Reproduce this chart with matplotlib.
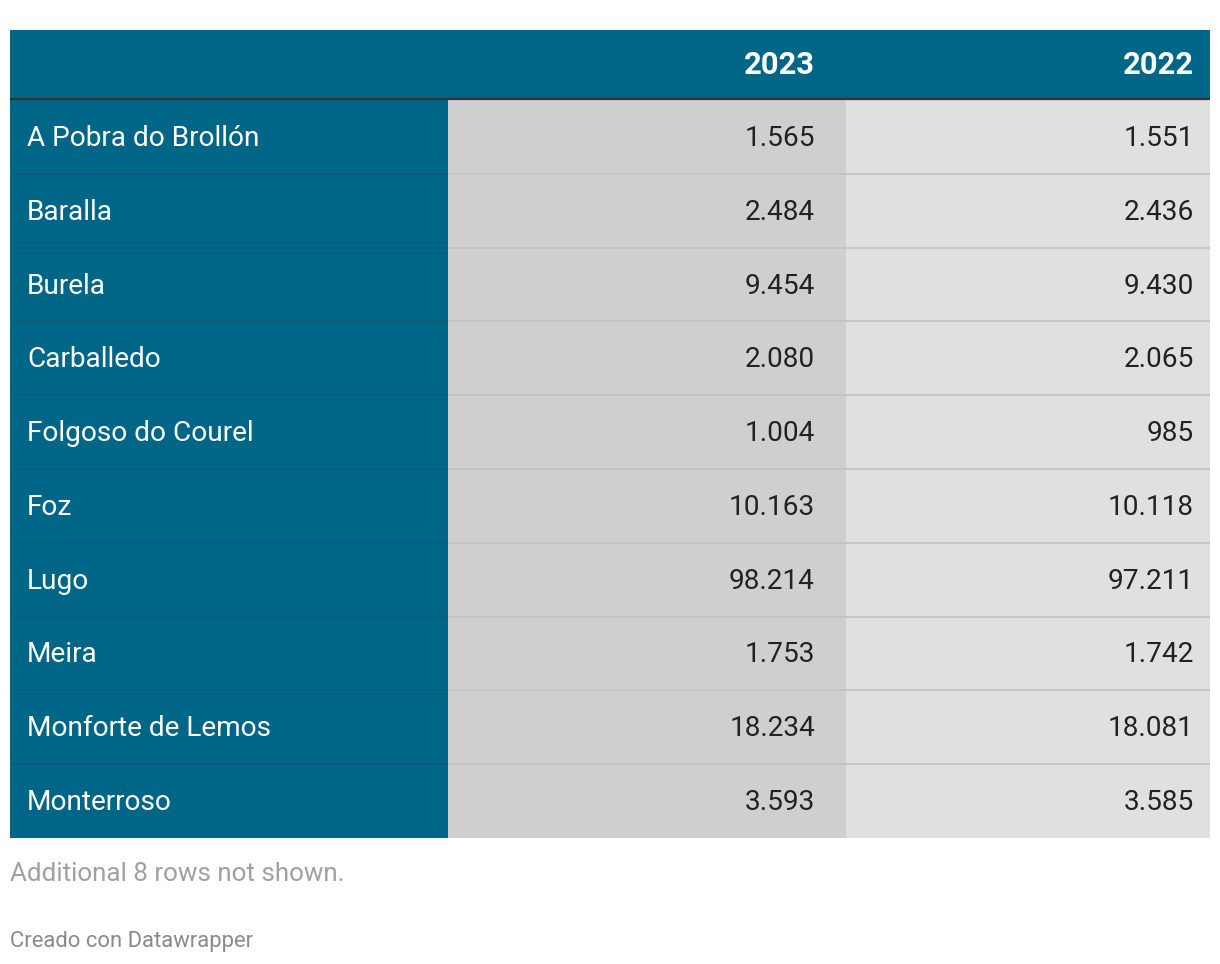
import matplotlib.pyplot as plt
from matplotlib.patches import Rectangle

plt.rcParams['font.family'] = ['Roboto', 'DejaVu Sans']

# data
municipios = ["A Pobra do Brollón", "Baralla", "Burela", "Carballedo",
              "Folgoso do Courel", "Foz", "Lugo", "Meira",
              "Monforte de Lemos", "Monterroso"]
val_2023 = [1565, 2484, 9454, 2080, 1004, 10163, 98214, 1753, 18234, 3593]
val_2022 = [1551, 2436, 9430, 2065, 985, 10118, 97211, 1742, 18081, 3585]
headers = ["2023", "2022"]
footnote = "Additional 8 rows not shown."
credit = "Creado con Datawrapper"


def fmt(v):
    # Spanish thousands separator
    return f"{v:,}".replace(",", ".")


W, H = 1220, 964
fig = plt.figure(figsize=(W / 100, H / 100), dpi=100)
ax = fig.add_axes([0, 0, 1, 1])
ax.set_xlim(0, W)
ax.set_ylim(H, 0)
ax.axis('off')

teal = "#006687"
left, right = 10, 1210
col_edges = [10, 448, 846, 1210]
col_fill = [teal, "#cfcfcf", "#e0e0e0"]
head_top, head_bot = 30, 99
row_h = 73.8
n = len(municipios)
table_bot = head_bot + 1 + row_h * n

# header
ax.add_patch(Rectangle((left, head_top), right - left, head_bot - head_top,
                       color=teal, lw=0))
# column backgrounds
for i in range(3):
    ax.add_patch(Rectangle((col_edges[i], head_bot), col_edges[i + 1] - col_edges[i],
                           table_bot - head_bot, color=col_fill[i], lw=0))

# row separators
for r in range(1, n):
    y = head_bot + 1 + row_h * r
    ax.plot([col_edges[0], col_edges[1]], [y, y], color="#0a5d7a", lw=1.2,
            solid_capstyle='butt')
    ax.plot([col_edges[1], col_edges[3]], [y, y], color="#c2c2c2", lw=1.2,
            solid_capstyle='butt')

ax.plot([left, right], [head_bot, head_bot], color="#333333", lw=1.6,
        solid_capstyle='butt')

# header labels
num_x = [815, 1194]
for h, x in zip(headers, num_x):
    ax.text(x, 65, h, color="white", fontsize=22.2, fontweight='bold',
            ha='right', va='center')

# rows
for r, (name, a, b) in enumerate(zip(municipios, val_2023, val_2022)):
    yc = head_bot + 1 + row_h * r + row_h / 2 + 1.5
    ax.text(27, yc, name, color="white", fontsize=20.2, ha='left', va='center')
    ax.text(num_x[0], yc, fmt(a), color="#222222", fontsize=20.2,
            ha='right', va='center')
    ax.text(num_x[1], yc, fmt(b), color="#222222", fontsize=20.2,
            ha='right', va='center')

ax.text(10, 874, footnote, color="#a0a0a0", fontsize=18.7, ha='left', va='center')
ax.text(10, 941, credit, color="#8a8a8a", fontsize=15.8, ha='left', va='center')

fig.savefig("out.png", dpi=100)
